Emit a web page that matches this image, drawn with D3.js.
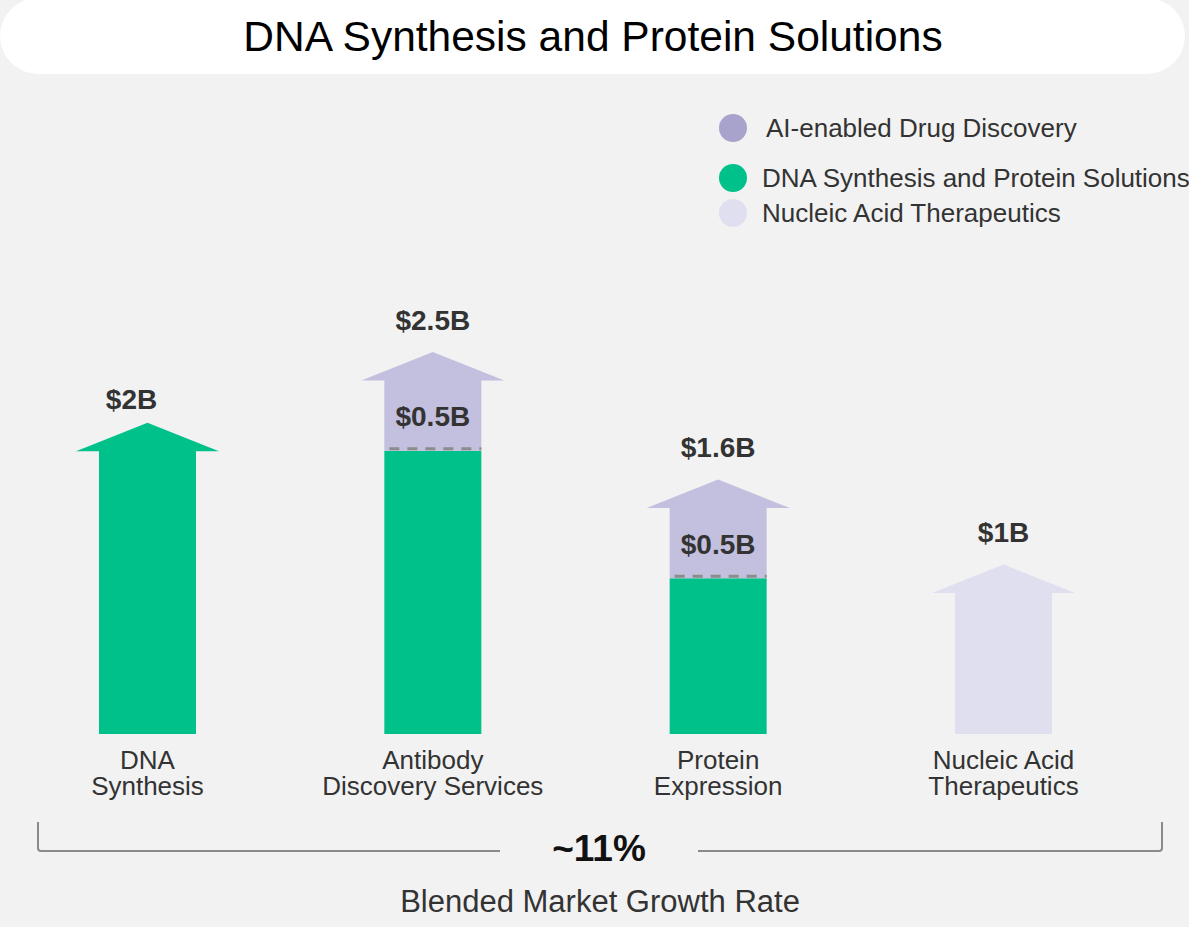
<!DOCTYPE html>
<html>
<head>
<meta charset="utf-8">
<script src="https://cdn.jsdelivr.net/npm/d3@7"></script>
<style>
  html, body { margin: 0; padding: 0; background: #f2f2f2; }
  svg { display: block; font-family: "Liberation Sans", Arial, Helvetica, sans-serif; }
</style>
</head>
<body>
<svg id="chart" width="1189" height="927"></svg>
<script>
// Market size by segment, in $B
const categories = ["DNA Synthesis", "Antibody Discovery Services", "Protein Expression", "Nucleic Acid Therapeutics"];
const categoryLines = [["DNA", "Synthesis"], ["Antibody", "Discovery Services"], ["Protein", "Expression"], ["Nucleic Acid", "Therapeutics"]];
const dnaProtein = [2, 2, 1.1, 0];
const aiDrug = [0, 0.5, 0.5, 0];
const nucleicAcid = [0, 0, 0, 1];
const totalLabels = ["$2B", "$2.5B", "$1.6B", "$1B"];
const segmentLabels = [null, "$0.5B", "$0.5B", null];
const seriesNames = ["AI-enabled Drug Discovery", "DNA Synthesis and Protein Solutions", "Nucleic Acid Therapeutics"];
const title = "DNA Synthesis and Protein Solutions";
const growthRate = "~11%";
const growthCaption = "Blended Market Growth Rate";

const colors = {
  dna: "#00c18a",
  ai: "#c3bfde",
  nucleic: "#e0dff0",
  aiLegend: "#a8a3cc"
};

const svg = d3.select("#chart");

// Title pill
svg.append("rect").attr("x", 0).attr("y", -2).attr("width", 1185).attr("height", 76)
  .attr("rx", 38).attr("fill", "#ffffff");
svg.append("text").attr("x", 593).attr("y", 51).attr("text-anchor", "middle")
  .attr("font-size", 42.5).attr("fill", "#000").text(title);

// Legend
const legend = svg.append("g");
const legendItems = [
  { name: seriesNames[0], color: colors.aiLegend, y: 128, tx: 766 },
  { name: seriesNames[1], color: colors.dna, y: 178, tx: 762 },
  { name: seriesNames[2], color: colors.nucleic, y: 213, tx: 762 }
];
legendItems.forEach(d => {
  legend.append("circle").attr("cx", 733).attr("cy", d.y).attr("r", 14).attr("fill", d.color);
  legend.append("text").attr("x", d.tx).attr("y", d.y + 9).attr("font-size", 26)
    .attr("fill", "#333").text(d.name);
});

// Scales
const x = d3.scalePoint().domain(categories).range([147.5, 1003.5]);
const y = d3.scaleLinear().domain([0, 2.5]).range([734, 380]);
const barW = 97, headW = 143, headH = 28;

const rows = categories.map((c, i) => ({
  cat: c,
  segs: [
    { v: dnaProtein[i], color: colors.dna },
    { v: aiDrug[i], color: colors.ai },
    { v: nucleicAcid[i], color: colors.nucleic }
  ],
  total: dnaProtein[i] + aiDrug[i] + nucleicAcid[i],
  label: totalLabels[i],
  segLabel: segmentLabels[i],
  lines: categoryLines[i]
}));

const bars = svg.append("g");
rows.forEach((r, i) => {
  const cx = x(r.cat);
  let base = 0;
  let topColor = null;
  r.segs.forEach(s => {
    if (s.v <= 0) return;
    bars.append("rect")
      .attr("x", cx - barW / 2).attr("width", barW)
      .attr("y", y(base + s.v)).attr("height", y(base) - y(base + s.v))
      .attr("fill", s.color);
    base += s.v;
    topColor = s.color;
  });
  // arrow head on top of the stack
  const yt = y(r.total);
  bars.append("path")
    .attr("d", `M${cx - headW / 2},${yt + 0.5} L${cx},${yt - headH} L${cx + headW / 2},${yt + 0.5} Z`)
    .attr("fill", topColor);

  // dashed divider between green and AI segments
  const dna = r.segs[0].v, ai = r.segs[1].v;
  if (dna > 0 && ai > 0) {
    bars.append("line")
      .attr("x1", cx - barW / 2 + 5).attr("x2", cx + barW / 2)
      .attr("y1", y(dna) - 2).attr("y2", y(dna) - 2)
      .attr("stroke", "#8c8c8c").attr("stroke-width", 3)
      .attr("stroke-dasharray", "10,8");
    bars.append("text")
      .attr("x", cx).attr("y", (y(dna) + y(dna + ai)) / 2 + 11)
      .attr("text-anchor", "middle").attr("font-size", 28).attr("font-weight", "bold")
      .attr("fill", "#333").text(r.segLabel);
  }

  // total label (first one sits slightly left of its arrow)
  bars.append("text")
    .attr("x", cx + (i === 0 ? -16 : 0)).attr("y", yt - headH - (i === 0 ? 14 : 22))
    .attr("text-anchor", "middle").attr("font-size", 28).attr("font-weight", "bold")
    .attr("fill", "#333").text(r.label);

  // category label
  const t = bars.append("text").attr("text-anchor", "middle").attr("font-size", 26).attr("fill", "#333");
  r.lines.forEach((ln, k) => {
    t.append("tspan").attr("x", cx).attr("y", 769 + k * 26).text(ln);
  });
});

// Bracket spanning all categories
const bx0 = 38, bx1 = 1162, by0 = 822, by1 = 851;
const bracket = svg.append("g").attr("fill", "none").attr("stroke", "#8a8a8a").attr("stroke-width", 2);
bracket.append("path").attr("d", `M${bx0},${by0} V${by1 - 3} Q${bx0},${by1} ${bx0 + 3},${by1} H500`);
bracket.append("path").attr("d", `M698,${by1} H${bx1 - 3} Q${bx1},${by1} ${bx1},${by1 - 3} V${by0}`);

svg.append("text").attr("x", 599).attr("y", 861).attr("text-anchor", "middle")
  .attr("font-size", 37).attr("font-weight", "bold").attr("fill", "#111").text(growthRate);
svg.append("text").attr("x", 600).attr("y", 912).attr("text-anchor", "middle")
  .attr("font-size", 31).attr("fill", "#333").text(growthCaption);
</script>
</body>
</html>
